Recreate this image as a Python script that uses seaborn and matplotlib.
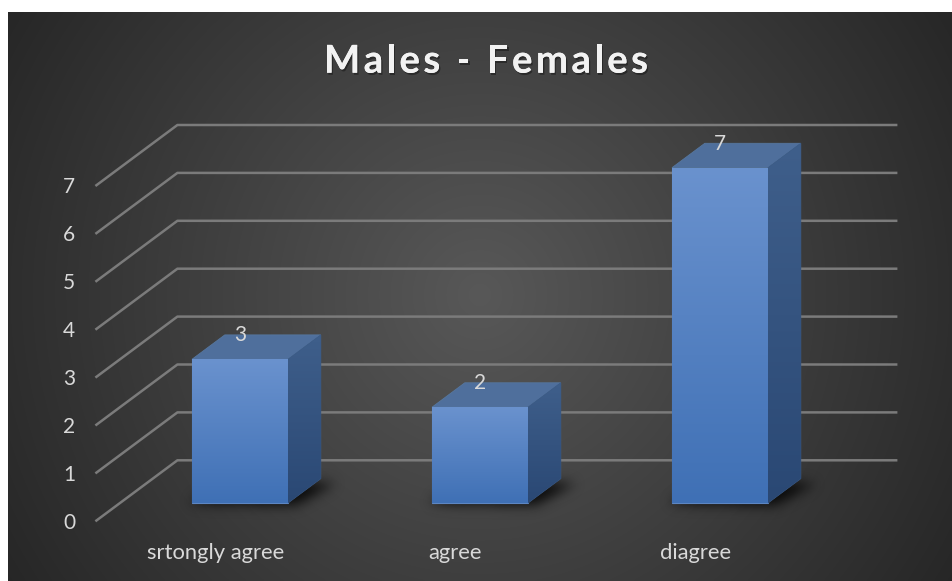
import numpy as np
import matplotlib
matplotlib.use("Agg")
import matplotlib.pyplot as plt
import matplotlib.patheffects as pe
from matplotlib.patches import Polygon
from matplotlib.path import Path
from matplotlib.colors import LinearSegmentedColormap
import pandas as pd
import seaborn as sns

# ---- data -------------------------------------------------------------
categories = ["srtongly agree", "agree", "diagree"]
counts = [3, 2, 7]
y_ticks = [0, 1, 2, 3, 4, 5, 6, 7]
title = "Males - Females"

# ---- figure geometry (pixels) ----------------------------------------
W, H, DPI = 953, 581, 100
UX, UY = 240.0, 47.9          # pixels per category step / per unit value
ORIGIN_PX, ORIGIN_PY = 240.0, 503.0   # first bar centre, baseline (from top)
DX, DY = 82.0 / UX, 61.0 / UY         # full depth of the 3-D box, data units
FRONT, BACK, BAR_D = -0.3, 0.7, 0.4   # depth fractions relative to bar fronts

TEXT = "#d9d9d9"
GRID = "#7b7b7b"
TICK_FS, CAT_FS = 15, 15.8

sns.set_theme(style="white")
plt.rcParams["font.family"] = ["Lato", "DejaVu Sans"]

fig = plt.figure(figsize=(W / DPI, H / DPI), dpi=DPI)
fig.patch.set_facecolor("white")

# ---- dark radial background panel ------------------------------------
bg = fig.add_axes([8 / W, 0, (W - 8) / W, (H - 12) / H])
ny, nx = 290, 480
yy, xx = np.mgrid[0:ny, 0:nx]
px = 8 + xx / (nx - 1) * (W - 8)
py = 12 + yy / (ny - 1) * (H - 12)
r = np.clip(np.hypot(px - 480, py - 295) / 560.0, 0, 1)
val = (0x58 + (0x26 - 0x58) * r) / 255.0
bg.imshow(np.dstack([val, val, val]), aspect="auto", extent=(0, 1, 0, 1),
          origin="upper", interpolation="bilinear")
bg.axis("off")

# ---- main axes --------------------------------------------------------
ax = fig.add_axes([0, 0, 1, 1])
ax.patch.set_alpha(0)
df = pd.DataFrame({"category": categories, "count": counts})
sns.barplot(data=df, x="category", y="count", width=0.4, color="#5581c2",
            saturation=1, ax=ax, zorder=5, edgecolor="#5d86c2", linewidth=0.8)

xlim = (-ORIGIN_PX / UX, (W - ORIGIN_PX) / UX)
ylim = ((ORIGIN_PY - H) / UY, ORIGIN_PY / UY)


def fix_limits():
    ax.set_xlim(*xlim)
    ax.set_ylim(*ylim)


fix_limits()
ax.axis("off")

# gridlines: front edge -> back wall -> across the back wall
n_cat = len(categories)
for v in y_ticks:
    xs = [-0.5 + FRONT * DX, -0.5 + BACK * DX, n_cat - 0.5 + BACK * DX]
    ys = [v + FRONT * DY, v + BACK * DY, v + BACK * DY]
    ax.plot(xs, ys, color=GRID, lw=1.8, zorder=1, solid_capstyle="butt")
    ax.text(-0.5 + FRONT * DX - 20 / UX, v + FRONT * DY - 7.5 / UY, str(v),
            ha="right", va="baseline", color=TEXT, fontsize=TICK_FS, zorder=8)

# category labels sit on the front plane
for i, cat in enumerate(categories):
    ax.text(i + FRONT * DX, FRONT * DY - 37.5 / UY, cat, ha="center",
            va="baseline", color=TEXT, fontsize=CAT_FS, zorder=8)

front_cmap = LinearSegmentedColormap.from_list("front", ["#3f70b5", "#6a92ce"])
side_cmap = LinearSegmentedColormap.from_list("side", ["#2a4874", "#3f5f8b"])
grad = np.linspace(0, 1, 256).reshape(-1, 1)

bars = list(ax.patches)
shadow_polys = []
for p, v in zip(bars, counts):
    x0, w, h = p.get_x(), p.get_width(), p.get_height()
    bx, by = BAR_D * DX, BAR_D * DY

    im = ax.imshow(grad, extent=(x0, x0 + w, 0, h), origin="lower",
                   aspect="auto", cmap=front_cmap, zorder=5.1)
    im.set_clip_path(p)

    top = Polygon([(x0, h), (x0 + w, h), (x0 + w + bx, h + by), (x0 + bx, h + by)],
                  closed=True, facecolor="#4f6f9c", edgecolor="#56779f",
                  lw=0.6, zorder=5)
    ax.add_patch(top)

    side = Polygon([(x0 + w, 0), (x0 + w + bx, by), (x0 + w + bx, h + by), (x0 + w, h)],
                   closed=True, facecolor="#34547f", edgecolor="#3d5c86",
                   lw=0.6, zorder=5)
    ax.add_patch(side)
    ims = ax.imshow(grad, extent=(x0 + w, x0 + w + bx, 0, h + by), origin="lower",
                    aspect="auto", cmap=side_cmap, zorder=5.05)
    ims.set_clip_path(side)

    ax.text(x0 + w / 2, h + by - 6.5 / UY, str(v), ha="center", va="baseline",
            color=TEXT, fontsize=TICK_FS, zorder=8)

    shadow_polys.append([(x0 - 0.01, 0), (x0 + w + 0.03, -0.05),
                         (x0 + w + bx + 0.06, by - 0.1), (x0 + bx, by)])

fix_limits()

# soft contact shadow under each bar, blurred in pixel space
fig.canvas.draw()
renderer = fig.canvas.get_renderer()
gy, gx = np.mgrid[0:H, 0:W]
pts = np.column_stack([gx.ravel() + 0.5, (H - gy.ravel() - 0.5)])
mask = np.zeros(H * W)
for poly in shadow_polys:
    path = Path(ax.transData.transform(poly))
    mask = np.maximum(mask, path.contains_points(pts).astype(float))
mask = mask.reshape(H, W)
sig = 6.0
k = np.arange(-18, 19)
kern = np.exp(-k ** 2 / (2 * sig ** 2))
kern /= kern.sum()
blur = np.apply_along_axis(lambda m: np.convolve(m, kern, mode="same"), 1, mask)
blur = np.apply_along_axis(lambda m: np.convolve(m, kern, mode="same"), 0, blur)
shadow = np.zeros((H, W, 4))
shadow[..., 3] = np.clip(blur * 0.85, 0, 1)
ax.imshow(shadow, extent=(*xlim, *ylim), origin="upper", aspect="auto",
          zorder=3, interpolation="bilinear")
fix_limits()

# title with extra letter spacing, laid out glyph by glyph
title_kw = dict(fontsize=27.7, fontweight="bold", color="#f2f2f2",
                path_effects=[pe.withSimplePatchShadow(offset=(1, -1.5),
                                                       shadow_rgbFace="black",
                                                       alpha=0.35),
                              pe.Normal()])
TRACK = 3.3  # extra pixels between glyphs


def text_width(s):
    t = fig.text(0, 0, s, **title_kw)
    wpx = t.get_window_extent(renderer).width
    t.remove()
    return wpx


full_w = text_width(title) + TRACK * (len(title) - 1)
left = 486 - full_w / 2
for i, ch in enumerate(title):
    if ch == " ":
        continue
    xi = left + text_width(title[:i + 1]) - text_width(ch) + TRACK * i
    fig.text(xi / W, 1 - 72.7 / H, ch, ha="left", va="baseline", **title_kw)

fig.savefig("out.png", dpi=DPI, facecolor=fig.get_facecolor())
